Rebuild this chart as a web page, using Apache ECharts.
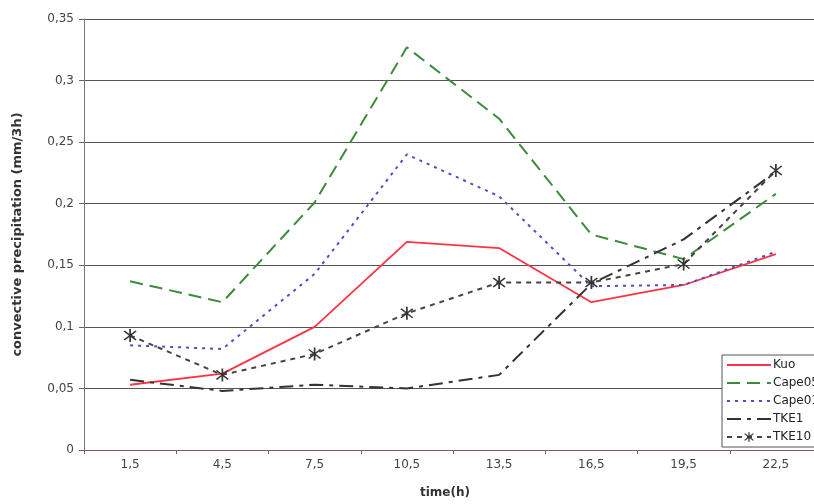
<!DOCTYPE html>
<html>
<head>
<meta charset="utf-8">
<script src="https://cdn.jsdelivr.net/npm/echarts@6/dist/echarts.min.js"></script>
<style>html,body{margin:0;padding:0;background:#fff;overflow:hidden;width:814px;height:504px;}#c{width:830px;height:504px;}</style>
</head>
<body>
<div id="c"></div>
<script>
var categories = ['1,5', '4,5', '7,5', '10,5', '13,5', '16,5', '19,5', '22,5'];
var kuo    = [0.053, 0.062, 0.100, 0.169, 0.164, 0.120, 0.134, 0.159];
var cape05 = [0.137, 0.120, 0.201, 0.327, 0.269, 0.175, 0.155, 0.208];
var cape01 = [0.085, 0.082, 0.143, 0.240, 0.206, 0.133, 0.134, 0.161];
var tke1   = [0.057, 0.048, 0.053, 0.050, 0.061, 0.135, 0.171, 0.226];
var tke10  = [0.093, 0.061, 0.078, 0.111, 0.136, 0.136, 0.151, 0.227];
var seriesNames = ['Kuo', 'Cape05', 'Cape01', 'TKE1', 'TKE10'];

var star = 'path://M-1,-10 L-1,10 L1,10 L1,-10 Z M-7.7,-6.3 L6.3,7.7 L7.7,6.3 L-6.3,-7.7 Z M-7.7,6.3 L-6.3,7.7 L7.7,-6.3 L6.3,-7.7 Z';
var font = 'DejaVu Sans, Verdana, sans-serif';

var legendData = seriesNames.map(function (n) {
  return n === 'TKE10' ? {name: n} : {name: n, itemStyle: {opacity: 0}};
});

var chart = echarts.init(document.getElementById('c'), null, {renderer: 'canvas'});
chart.setOption({
  animation: false,
  backgroundColor: '#ffffff',
  grid: {left: 84, top: 19, right: 8, bottom: 52, containLabel: false},
  legend: {
    left: 722, top: 355, orient: 'vertical',
    data: legendData,
    backgroundColor: '#fff', borderColor: '#555', borderWidth: 1,
    padding: [4, 4, 4, 4], itemGap: 6, itemWidth: 44, itemHeight: 12,
    textStyle: {fontFamily: font, fontSize: 12, color: '#222', padding: [0, 0, 0, -3]}
  },
  xAxis: {
    type: 'category', data: categories, boundaryGap: true,
    name: 'time(h)', nameLocation: 'middle', nameGap: 37,
    nameTextStyle: {fontFamily: font, fontSize: 12, fontWeight: 'bold', color: '#333', padding: [0, 16, 0, 0]},
    axisLine: {lineStyle: {color: '#8a5a5a', width: 1}},
    axisTick: {show: true, alignWithLabel: false, length: 4, lineStyle: {color: '#666'}},
    axisLabel: {fontFamily: font, fontSize: 12, color: '#444', margin: 9}
  },
  yAxis: {
    type: 'value', min: 0, max: 0.35, interval: 0.05,
    name: 'convective precipitation (mm/3h)', nameLocation: 'middle', nameGap: 60,
    nameTextStyle: {fontFamily: font, fontSize: 13, fontWeight: 'bold', color: '#333'},
    axisLine: {show: true, lineStyle: {color: '#777'}},
    axisTick: {show: true, length: 5, lineStyle: {color: '#666'}},
    axisLabel: {fontFamily: font, fontSize: 12, color: '#444', margin: 10,
      formatter: function (v) { return String(+v.toFixed(2)).replace('.', ','); }},
    splitLine: {show: true, lineStyle: {color: '#555', width: 1}}
  },
  series: [
    {name: 'Kuo', type: 'line', data: kuo, symbol: 'none',
     lineStyle: {color: '#ff3344', width: 1.8}, itemStyle: {color: '#ff3344'}},
    {name: 'Cape05', type: 'line', data: cape05, symbol: 'none',
     lineStyle: {color: '#3c8a3c', width: 2, type: [13, 7]}, itemStyle: {color: '#3c8a3c'}},
    {name: 'Cape01', type: 'line', data: cape01, symbol: 'none',
     lineStyle: {color: '#5a48c0', width: 2, type: [3, 5]}, itemStyle: {color: '#5a48c0'}},
    {name: 'TKE1', type: 'line', data: tke1, symbol: 'none',
     lineStyle: {color: '#333', width: 2, type: [14, 6, 4, 6]}, itemStyle: {color: '#333'}},
    {name: 'TKE10', type: 'line', data: tke10, symbol: star, symbolSize: 13,
     lineStyle: {color: '#444', width: 2, type: [5, 5]}, itemStyle: {color: '#333'}}
  ]
});
</script>
</body>
</html>
